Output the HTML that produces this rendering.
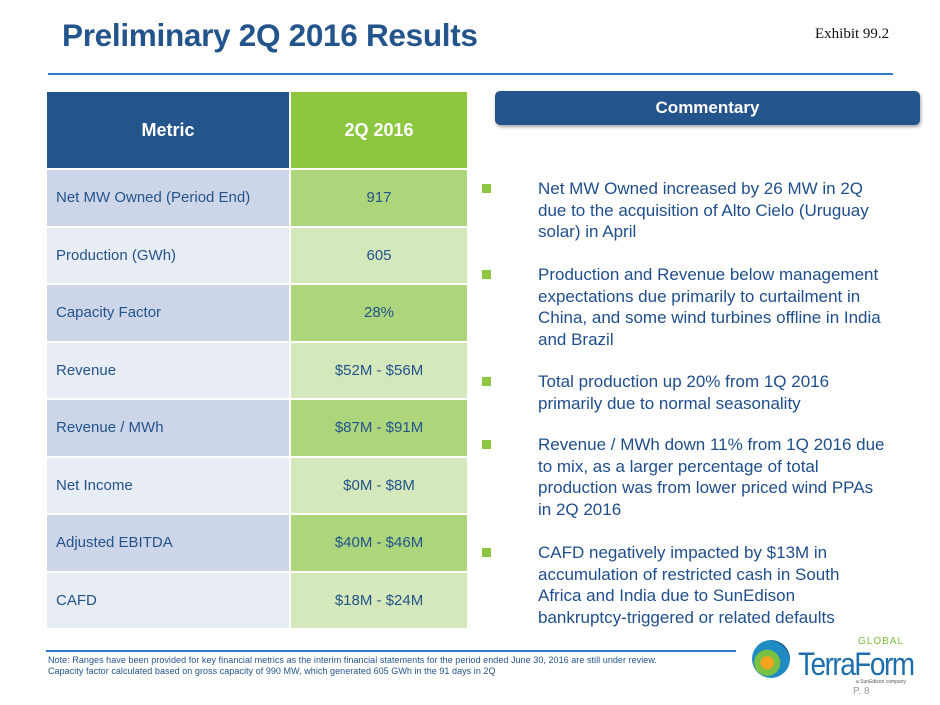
<!DOCTYPE html>
<html><head><meta charset="utf-8"><style>
body{margin:0;width:940px;height:705px;background:#fff;font-family:"Liberation Sans",sans-serif;position:relative;overflow:hidden}
.a{position:absolute}
.title{left:62px;top:17px;font-size:31.5px;font-weight:bold;color:#23548b;letter-spacing:-0.3px}
.ex{left:815px;top:26px;font-family:"Liberation Serif",serif;font-size:15px;color:#111}
table{position:absolute;left:45px;top:90px;border-collapse:collapse;width:424px}
td{height:55.5px;border:2px solid #fff;font-size:15px;color:#23548b;padding:0}
td.l{width:233px;padding-left:9px}
td.r{text-align:center}
th{height:76px;border:2px solid #fff;color:#fff;font-size:18px;font-weight:bold;padding:0}
.bul{left:482px;width:420px;font-size:17px;line-height:21.5px;color:#1f4e8c}
.bul .sq{position:absolute;left:0;top:6px;width:9px;height:9px;background:#8dc63f}
.bul .t{margin-left:56px;width:350px}
</style></head><body>
<div class="a title">Preliminary 2Q 2016 Results</div>
<div class="a ex">Exhibit 99.2</div>
<div class="a" style="left:48px;top:73px;width:845px;height:2px;background:#2a7bc4"></div>
<table>
<tr><th style="background:#23548b">Metric</th><th style="background:#8dc63f">2Q 2016</th></tr>
<tr><td class="l" style="background:#cdd6e8">Net MW Owned (Period End)</td><td class="r" style="background:#acd57c">917</td></tr>
<tr><td class="l" style="background:#e8ecf4">Production (GWh)</td><td class="r" style="background:#d4e8bb">605</td></tr>
<tr><td class="l" style="background:#cdd6e8">Capacity Factor</td><td class="r" style="background:#acd57c">28%</td></tr>
<tr><td class="l" style="background:#e8ecf4">Revenue</td><td class="r" style="background:#d4e8bb">$52M - $56M</td></tr>
<tr><td class="l" style="background:#cdd6e8">Revenue / MWh</td><td class="r" style="background:#acd57c">$87M - $91M</td></tr>
<tr><td class="l" style="background:#e8ecf4">Net Income</td><td class="r" style="background:#d4e8bb">$0M - $8M</td></tr>
<tr><td class="l" style="background:#cdd6e8">Adjusted EBITDA</td><td class="r" style="background:#acd57c">$40M - $46M</td></tr>
<tr><td class="l" style="background:#e8ecf4">CAFD</td><td class="r" style="background:#d4e8bb">$18M - $24M</td></tr>
</table>
<div class="a" style="left:495px;top:91px;width:425px;height:34px;background:#23548b;border-radius:5px;box-shadow:1px 2px 3px rgba(0,0,0,.35);color:#fff;font-weight:bold;font-size:17px;text-align:center;line-height:34px">Commentary</div>
<div class="a bul" style="top:178px"><span class="sq"></span><div class="t">Net MW Owned increased by 26 MW in 2Q due to the acquisition of Alto Cielo (Uruguay solar) in April</div></div>
<div class="a bul" style="top:264px"><span class="sq"></span><div class="t">Production and Revenue below management expectations due primarily to curtailment in China, and some wind turbines offline in India and Brazil</div></div>
<div class="a bul" style="top:371px"><span class="sq"></span><div class="t">Total production up 20% from 1Q 2016 primarily due to normal seasonality</div></div>
<div class="a bul" style="top:434px"><span class="sq"></span><div class="t">Revenue / MWh down 11% from 1Q 2016 due to mix, as a larger percentage of total production was from lower priced wind PPAs in 2Q 2016</div></div>
<div class="a bul" style="top:542px"><span class="sq"></span><div class="t">CAFD negatively impacted by $13M in<br>accumulation of restricted cash in South<br>Africa and India due to SunEdison<br>bankruptcy-triggered or related defaults</div></div>
<div class="a" style="left:46px;top:650px;width:690px;height:2px;background:#2a7bc4"></div>
<div class="a" style="left:48px;top:655px;font-size:9px;line-height:11px;color:#23548b;letter-spacing:0.05px">Note: Ranges have been provided for key financial metrics as the interim financial statements for the period ended June 30, 2016 are still under review.<br>Capacity factor calculated based on gross capacity of 990 MW, which generated 605 GWh in the 91 days in 2Q</div>
<div class="a" style="left:750px;top:632px;width:160px;height:50px">
<div class="a" style="left:2px;top:8px;width:38px;height:38px;border-radius:50%;background:radial-gradient(circle at 40% 60%,#f6a21d 0 20%,#7ac143 21% 40%,#1e8bc3 41% 70%,#1d5a8c 71%)"></div>
<div class="a" style="left:48px;top:14px;font-size:28px;color:#1e6fae;letter-spacing:-1.5px;transform:scaleY(1.15);transform-origin:left top">TerraForm</div>
<div class="a" style="left:108px;top:4px;font-size:10px;color:#7ac143;letter-spacing:1px">GLOBAL</div>
<div class="a" style="left:106px;top:47px;font-size:5px;color:#555;white-space:nowrap">a SunEdison company</div>
</div>
<div class="a" style="left:853px;top:686px;font-size:10px;color:#999">P. 8</div>
</body></html>
